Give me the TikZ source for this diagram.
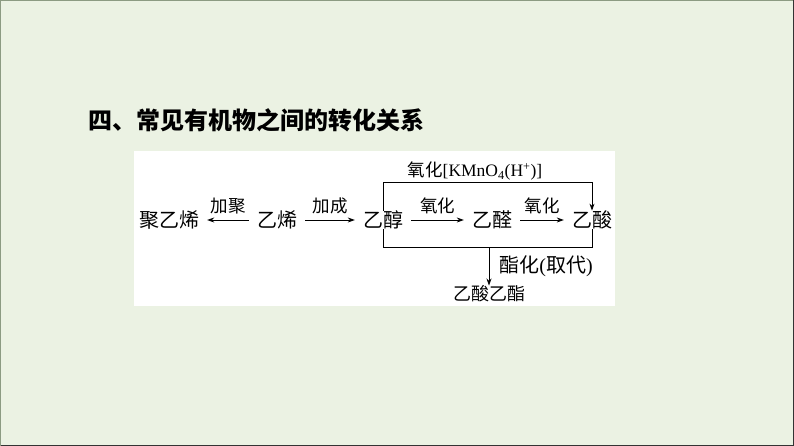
\documentclass[tikz,border=0pt]{standalone}
\usepackage{fontspec}
\setmainfont{Liberation Serif}
\newfontfamily\cjk{Noto Sans CJK SC}
\usetikzlibrary{calc,arrows.meta,positioning}
\definecolor{slidebg}{RGB}{235,242,227}
\definecolor{slideedge}{RGB}{140,155,130}

\begin{document}
\begin{tikzpicture}[x=1pt,y=-1pt,
	chem/.style={inner xsep=8pt,inner ysep=0pt,font=\cjk\fontsize{20}{20}\selectfont},
	cond/.style={inner sep=1pt,font=\cjk\fontsize{17.5}{18}\selectfont},
	rxn/.style={-{Stealth[length=7pt,width=5pt]},line width=0.8pt}]
	\fill[slidebg] (0,0) rectangle (794,446);
	\draw[slideedge] (0.5,445.5) -- (0.5,0.5) -- (793.5,0.5);
	\draw[black!80] (0.5,445.5) -- (793.5,445.5) -- (793.5,0.5);
	\useasboundingbox (0,0) rectangle (794,446);
	\fill[white] (134,151) rectangle (615,306);
	
	\node[anchor=west,font=\cjk\bfseries\fontsize{24}{24}\selectfont] (title) at (85,120) {四、常见有机物之间的转化关系};
	
	\node[chem] (polyene) at (169,220) {聚乙烯};
	\node[chem] (ethene) at (277,220) {乙烯};
	\node[chem] (ethanol) at (383,220) {乙醇};
	\node[chem] (ethanal) at (492,220) {乙醛};
	\node[chem] (acid) at (592,220) {乙酸};
	\node[chem,font=\cjk\fontsize{18}{18}\selectfont] (ester) at (489,294) {乙酸乙酯};
	
	\draw[rxn] (ethene) -- (polyene) node[cond,midway,above=5pt] {加聚};
	\draw[rxn] (ethene) -- (ethanol) node[cond,midway,above=5pt] {加成};
	\draw[rxn] (ethanol) -- (ethanal) node[cond,midway,above=5pt] {氧化};
	\draw[rxn] (ethanal) -- (acid) node[cond,midway,above=5pt] {氧化};
	
	\draw[rxn] (ethanol.north) -- ++(0,-28) -| (acid.north)
		node[cond,pos=0.22,above=1pt] {氧化\rmfamily[KMnO\textsubscript{4}(H\textsuperscript{+})]};
	\draw[line width=0.8pt] (ethanol.south) -- ++(0,18) coordinate (bl) -| (acid.south);
	\draw[rxn] (bl -| ester.north) -- (ester.north)
		node[cond,midway,right=9pt,font=\cjk\fontsize{20}{20}\selectfont] {酯化\rmfamily(\cjk 取代\rmfamily)};
\end{tikzpicture}
\end{document}
